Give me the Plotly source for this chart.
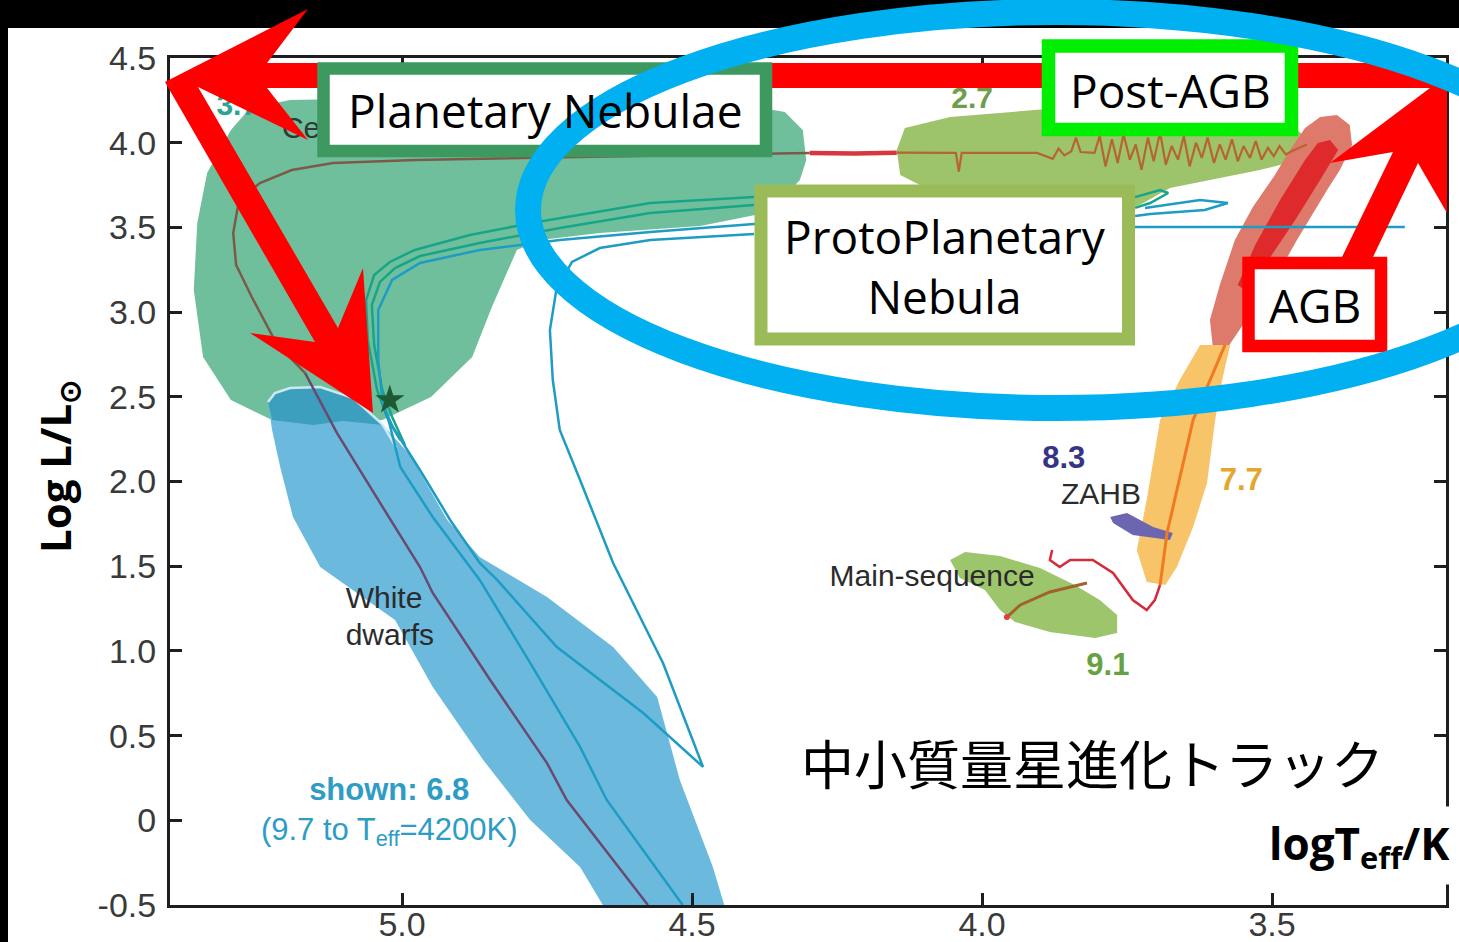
import plotly.graph_objects as go

# ---------------- axis ticks ----------------
x_tickvals = [5.0, 4.5, 4.0, 3.5]
x_ticktext = ["5.0", "4.5", "4.0", "3.5"]
y_tickvals = [4.5, 4.0, 3.5, 3.0, 2.5, 2.0, 1.5, 1.0, 0.5, 0.0, -0.5]
y_ticktext = ["4.5", "4.0", "3.5", "3.0", "2.5", "2.0", "1.5", "1.0", "0.5", "0", "-0.5"]

# ---------------- regions (log Teff, log L) ----------------
pn_logt = [5.295, 5.262, 5.193, 5.003, 4.659, 4.417, 4.340, 4.309, 4.303, 4.314, 4.366, 4.486, 4.659,
           4.762, 4.802, 4.845, 4.879, 4.950, 5.034, 5.153, 5.224, 5.295, 5.343, 5.359, 5.353, 5.336]
pn_logl = [4.075, 4.205, 4.252, 4.264, 4.252, 4.228, 4.181, 4.075, 3.898, 3.780, 3.591, 3.508, 3.467,
           3.426, 3.367, 3.030, 2.735, 2.499, 2.363, 2.334, 2.363, 2.481, 2.735, 3.130, 3.526, 3.821]

wd_logt = [5.231, 5.219, 5.193, 5.141, 5.084, 5.033, 4.986, 4.922, 4.866, 4.750, 4.636, 4.560, 4.521,
           4.486, 4.464, 4.440, 4.645, 4.693, 4.779, 4.860, 4.947, 5.012, 5.141, 5.188, 5.210, 5.224]
wd_logl = [2.469, 2.522, 2.552, 2.558, 2.493, 2.334, 2.156, 1.773, 1.554, 1.318, 1.023, 0.728, 0.238,
           -0.075, -0.276, -0.55, -0.55, -0.276, 0.002, 0.356, 0.787, 1.182, 1.495, 1.790, 2.086, 2.304]

cap_logt = [5.231, 5.219, 5.193, 5.141, 5.084, 5.033, 5.102, 5.153, 5.224]
cap_logl = [2.469, 2.522, 2.552, 2.558, 2.493, 2.334, 2.357, 2.334, 2.363]

rim_logt = [5.231, 5.219, 5.193, 5.141, 5.084, 5.033, 5.010]
rim_logl = [2.469, 2.522, 2.552, 2.558, 2.493, 2.334, 2.200]

pagb_logt = [4.147, 4.133, 4.055, 3.969, 3.866, 3.710, 3.555, 3.469, 3.434, 3.452, 3.521, 3.590, 3.676,
             3.728, 3.779, 3.866, 3.969, 4.090, 4.141]
pagb_logl = [3.957, 4.087, 4.152, 4.175, 4.205, 4.205, 4.164, 4.104, 4.016, 3.898, 3.839, 3.792, 3.733,
             3.632, 3.573, 3.632, 3.674, 3.721, 3.809]

agb_logt = [3.388, 3.366, 3.362, 3.383, 3.405, 3.457, 3.486, 3.521, 3.555, 3.576, 3.602, 3.607, 3.590,
            3.564, 3.533, 3.495, 3.469, 3.443, 3.417]
agb_logl = [4.164, 4.104, 3.986, 3.839, 3.721, 3.426, 3.249, 3.071, 2.894, 2.794, 2.794, 2.953, 3.160,
            3.426, 3.620, 3.809, 3.957, 4.087, 4.152]

core_logt = [3.400, 3.386, 3.417, 3.460, 3.512, 3.547, 3.559, 3.529, 3.486, 3.443, 3.421]
core_logl = [4.016, 3.957, 3.780, 3.544, 3.278, 3.130, 3.160, 3.396, 3.662, 3.898, 3.998]

rgb_logt = [3.624, 3.572, 3.586, 3.598, 3.612, 3.636, 3.664, 3.684, 3.716, 3.733, 3.716, 3.693, 3.659]
rgb_logl = [2.806, 2.806, 2.599, 2.363, 1.991, 1.731, 1.495, 1.389, 1.407, 1.596, 1.891, 2.363, 2.599]

zahb_logt = [3.779, 3.750, 3.705, 3.671, 3.676, 3.740, 3.774]
zahb_logl = [1.791, 1.814, 1.731, 1.696, 1.655, 1.684, 1.755]

ms_logt = [4.055, 4.029, 3.969, 3.900, 3.840, 3.797, 3.767, 3.767, 3.805, 3.883, 3.943, 3.969, 3.995, 4.038]
ms_logl = [1.537, 1.584, 1.560, 1.489, 1.389, 1.300, 1.212, 1.106, 1.076, 1.112, 1.171, 1.241, 1.359, 1.430]

# ---------------- evolutionary tracks ----------------
cs_logt = [4.297, 4.486, 4.697, 4.978, 5.119, 5.190, 5.245, 5.281, 5.291, 5.286, 5.259, 5.217, 5.167]
cs_logl = [3.939, 3.927, 3.916, 3.898, 3.880, 3.839, 3.762, 3.662, 3.467, 3.278, 3.089, 2.818, 2.640]

cool_logt = [5.167, 5.138, 5.112, 5.041, 4.969, 4.947, 4.848, 4.750, 4.716, 4.576]
cool_logl = [2.640, 2.452, 2.286, 1.891, 1.495, 1.342, 0.828, 0.338, 0.120, -0.500]

pagb_red_logt = [4.297, 4.220, 4.147]
pagb_red_logl = [3.939, 3.936, 3.941]

pagb_track_logt = [4.147, 4.045, 4.040, 4.035, 3.905, 3.878, 3.868, 3.858, 3.846, 3.838, 3.830, 3.806,
                   3.797, 3.787, 3.776, 3.766, 3.756, 3.745, 3.735, 3.725, 3.714, 3.704, 3.693, 3.683,
                   3.673, 3.662, 3.652, 3.642, 3.631, 3.621, 3.611, 3.600, 3.590, 3.580, 3.569, 3.559,
                   3.549, 3.538, 3.528, 3.518, 3.507, 3.497, 3.487, 3.476, 3.466, 3.440]
pagb_track_logl = [3.941, 3.940, 3.830, 3.940, 3.940, 3.905, 3.965, 3.925, 3.950, 4.030, 3.945, 3.940,
                   4.040, 3.860, 4.020, 3.880, 4.050, 3.900, 3.990, 3.840, 4.030, 3.890, 4.060, 3.870,
                   3.980, 3.900, 4.040, 3.860, 4.000, 3.910, 4.030, 3.880, 3.990, 3.900, 4.020, 3.890,
                   3.980, 3.910, 4.010, 3.900, 3.970, 3.920, 3.980, 3.930, 3.950, 3.990]

g1_logt = [4.393, 4.572, 4.767, 4.883, 4.978, 5.021, 5.048, 5.062, 5.059, 5.043, 5.026, 5.003]
g1_logl = [3.680, 3.644, 3.532, 3.455, 3.367, 3.296, 3.219, 3.071, 2.835, 2.540, 2.381, 2.245]

g2_logt = [4.393, 4.572, 4.728, 4.866, 4.969, 5.012, 5.038, 5.052, 5.048, 5.034, 5.017, 4.995]
g2_logl = [3.632, 3.585, 3.496, 3.408, 3.331, 3.260, 3.178, 3.042, 2.806, 2.540, 2.381, 2.215]

b1_logt = [3.271, 3.736, 4.393, 4.572, 4.728, 4.866, 4.969, 5.017, 5.041, 5.041, 5.034, 5.021, 5.003,
           4.947, 4.866, 4.779, 4.693, 4.647, 4.516]
b1_logl = [3.502, 3.502, 3.520, 3.473, 3.426, 3.367, 3.290, 3.190, 3.012, 2.717, 2.481, 2.334, 2.086,
           1.790, 1.419, 0.929, 0.433, 0.120, -0.500]

loop_logt = [4.393, 4.572, 4.659, 4.707, 4.734, 4.745, 4.740, 4.728, 4.693, 4.636, 4.550, 4.481,
             4.584, 4.733, 4.836, 4.866, 4.917, 4.969, 5.016, 5.029]
loop_logl = [3.461, 3.426, 3.378, 3.296, 3.130, 2.894, 2.599, 2.304, 2.009, 1.519, 0.929, 0.315,
             0.633, 1.023, 1.419, 1.519, 1.773, 2.068, 2.322, 2.422]

wig_g_logt = [3.736, 3.693, 3.679, 3.710, 3.736]
wig_g_logl = [3.679, 3.721, 3.703, 3.644, 3.615]
wig_b_logt = [3.719, 3.624, 3.576, 3.616, 3.710, 3.736]
wig_b_logl = [3.615, 3.662, 3.644, 3.603, 3.579, 3.567]

rgb_track_logt = [3.581, 3.636, 3.681, 3.693]
rgb_track_logl = [2.806, 2.363, 1.696, 1.389]

ms_red_logt = [3.879, 3.883, 3.866, 3.848, 3.809, 3.774, 3.740, 3.716, 3.702, 3.693]
ms_red_logl = [1.596, 1.537, 1.495, 1.537, 1.537, 1.460, 1.300, 1.241, 1.300, 1.389]

ms_line_logt = [3.819, 3.883, 3.934, 3.957]
ms_line_logl = [1.401, 1.348, 1.271, 1.200]

star_logt = [5.021]
star_logl = [2.481]

# ---------------- in-plot labels ----------------
label_text = ["<b>3.7</b>", "Ce", "<b>2.7</b>", "White", "dwarfs", "<b>shown: 6.8</b>",
              "(9.7 to T<sub>eff</sub>=4200K)", "<b>8.3</b>", "ZAHB", "<b>7.7</b>", "Main-sequence",
              "<b>9.1</b>", "RGB"]
label_logt = [5.284, 5.207, 4.017, 5.031, 5.021, 5.022, 5.022, 3.859, 3.795, 3.553, 4.086, 3.783, 3.679]
label_logl = [4.205, 4.075, 4.252, 1.300, 1.082, 0.167, -0.069, 2.127, 1.914, 1.997, 1.430, 0.905, 2.440]
label_color = ["#2aa493", "#2d3b35", "#6f9e4b", "#2b2b2b", "#2b2b2b", "#2e9cc4", "#2e9cc4",
               "#353583", "#2b2b2b", "#e3a72f", "#2b2b2b", "#66a243", "#2b2b2b"]
label_size = [30, 30, 30, 30, 30, 31, 31, 31, 30, 31, 30, 31, 30]
label_pos = ["middle center", "middle right"] + ["middle center"] * 11

# ---------------- figure geometry ----------------
W, H = 1459, 942
ML, MR, MT, MB = 170, 13, 58, 37
PW, PH = W - ML - MR, H - MT - MB


def fx(px):
    return (px - ML) / PW


def fy(py):
    return (H - MB - py) / PH


fig = go.Figure()


def region(xs, ys, color):
    fig.add_trace(go.Scatter(x=xs, y=ys, mode="lines", fill="toself", fillcolor=color,
                             line=dict(width=0), hoverinfo="skip", showlegend=False))


def track(xs, ys, color, width=2.5):
    fig.add_trace(go.Scatter(x=xs, y=ys, mode="lines", line=dict(color=color, width=width),
                             hoverinfo="skip", showlegend=False))


region(pn_logt, pn_logl, "#70bf9c")
region(wd_logt, wd_logl, "#6bbadd")
region(cap_logt, cap_logl, "#3c9fbd")
track(rim_logt, rim_logl, "rgba(215,240,250,0.9)", 2.5)
region(pagb_logt, pagb_logl, "#9dc46b")
region(agb_logt, agb_logl, "#dd7a6c")
region(core_logt, core_logl, "#de2a2a")
region(rgb_logt, rgb_logl, "#f8c46a")
region(zahb_logt, zahb_logl, "#6c66b0")
region(ms_logt, ms_logl, "#9dc56c")

track(cs_logt, cs_logl, "#7d5a48", 2.5)
track(cool_logt, cool_logl, "#6a4a6e", 2.5)
track(pagb_red_logt, pagb_red_logl, "#d9363e", 4.5)
track(pagb_track_logt, pagb_track_logl, "#b5652e", 2.2)
track(g1_logt, g1_logl, "#17a58a", 2.5)
track(g2_logt, g2_logl, "#17a58a", 2.5)
track(b1_logt, b1_logl, "#1e9cc4", 2.5)
track(loop_logt, loop_logl, "#1e9cc4", 2.5)
track(wig_g_logt, wig_g_logl, "#17a58a", 2.5)
track(wig_b_logt, wig_b_logl, "#1e9cc4", 2.5)
track(rgb_track_logt, rgb_track_logl, "#f07a22", 3)
track(ms_red_logt, ms_red_logl, "#d42a3a", 2.5)
track(ms_line_logt, ms_line_logl, "#a0622a", 3)

fig.add_trace(go.Scatter(x=star_logt, y=star_logl, mode="markers",
                         marker=dict(symbol="star", size=22, color="#1d5a33"),
                         hoverinfo="skip", showlegend=False))
fig.add_trace(go.Scatter(x=[ms_line_logt[-1]], y=[ms_line_logl[-1]], mode="markers",
                         marker=dict(symbol="circle", size=6, color="#e04040"),
                         hoverinfo="skip", showlegend=False))

fig.add_trace(go.Scatter(x=label_logt, y=label_logl, mode="text", text=label_text,
                         textposition=label_pos,
                         textfont=dict(family="Liberation Sans", size=label_size, color=label_color),
                         hoverinfo="skip", showlegend=False))

# ---------------- overlay: arrows, boxes, ellipse ----------------
arrow_px = [(165, 82), (308, 9), (267, 63), (1447, 63), (1447, 213), (1418, 163), (1373, 257),
            (1342, 257), (1393, 152), (1330, 163), (1430, 88), (267, 88), (308, 140), (198, 87),
            (338, 328), (363, 268), (373, 413), (250, 333), (315, 342)]
arrow_path = "M " + " L ".join(f"{fx(a):.5f},{fy(b):.5f}" for a, b in arrow_px) + " Z"

shapes = [
    dict(type="rect", xref="paper", yref="paper", x0=fx(0), x1=fx(W), y0=fy(28), y1=fy(0),
         fillcolor="black", line=dict(width=0), layer="above"),
    dict(type="rect", xref="paper", yref="paper", x0=fx(0), x1=fx(8), y0=fy(H), y1=fy(0),
         fillcolor="black", line=dict(width=0), layer="above"),
    dict(type="path", xref="paper", yref="paper", path=arrow_path,
         fillcolor="#ff0000", line=dict(width=0), layer="above"),
]

boxes = [
    # (x0, y0, x1, y1, border color, border width) in figure pixels, border midline
    (323.5, 68.5, 766, 151, "#3d9960", 12.5),
    (761, 191, 1128.5, 339, "#9bbb59", 13),
    (1048.5, 46, 1291.5, 129.5, "#00ee00", 13.5),
    (1248.5, 263, 1381, 346, "#ff0000", 12.5),
]
for x0, y0, x1, y1, col, lw in boxes:
    shapes.append(dict(type="rect", xref="paper", yref="paper", x0=fx(x0), x1=fx(x1),
                       y0=fy(y1), y1=fy(y0), fillcolor="white",
                       line=dict(color=col, width=lw), layer="above"))

shapes.append(dict(type="circle", xref="paper", yref="paper", x0=fx(528), x1=fx(1584),
                   y0=fy(408), y1=fy(12), line=dict(color="#00b0f0", width=26), layer="above"))

box_font = dict(family="Open Sans", size=46, color="black")
annotations = [
    dict(text="Planetary Nebulae", x=fx(545), y=fy(110), font=box_font),
    dict(text="ProtoPlanetary<br>Nebula", x=fx(945), y=fy(266), font=box_font),
    dict(text="Post-AGB", x=fx(1170), y=fy(90), font=box_font),
    dict(text="AGB", x=fx(1315), y=fy(305), font=box_font),
    dict(text="中小質量星進化トラック", x=fx(1092), y=fy(762),
         font=dict(family="Noto Sans CJK JP", size=53, color="black")),
    dict(text="<b>logT<sub>eff</sub>/K</b>", x=fx(1457), y=fy(845), xanchor="right",
         font=dict(family="Open Sans", size=44, color="black"), bgcolor="white", borderpad=6),
    dict(text="<b>Log L/L<sub>⊙</sub></b>", x=fx(57), y=fy(467), textangle=-90,
         font=dict(family="Open Sans", size=42, color="black")),
]
for a in annotations:
    a.update(xref="paper", yref="paper", showarrow=False)
    a.setdefault("xanchor", "center")
    a.setdefault("yanchor", "middle")

axis_common = dict(showgrid=False, zeroline=False, showline=True, linecolor="#1e1e1e", linewidth=3,
                   mirror="ticks", ticks="inside", ticklen=12, tickwidth=2.5, tickcolor="#1e1e1e",
                   tickfont=dict(family="Liberation Sans", size=34, color="#3a3a3a"),
                   automargin=False)

fig.update_layout(
    width=W, height=H, template="none",
    margin=dict(l=ML, r=MR, t=MT, b=MB, pad=0),
    paper_bgcolor="white", plot_bgcolor="white",
    showlegend=False,
    xaxis=dict(range=[5.4, 3.2], tickvals=x_tickvals, ticktext=x_ticktext, ticklabelstandoff=-13,
               **axis_common),
    yaxis=dict(range=[-0.5, 4.5], tickvals=y_tickvals, ticktext=y_ticktext, ticklabelstandoff=4,
               **axis_common),
    shapes=shapes,
    annotations=annotations,
)

fig.write_html("out.html")
